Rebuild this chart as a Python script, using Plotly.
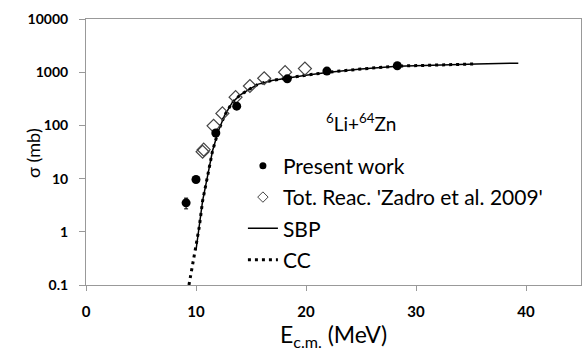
import plotly.graph_objects as go

# Present work (filled circles)
pw_x = [9.1, 10.0, 11.8, 13.7, 18.3, 21.9, 28.3]
pw_y = [3.5, 9.6, 72, 230, 750, 1050, 1320]
pw_err = [0.8, 0, 0, 0, 0, 0, 0]

# Tot. Reac. 'Zadro et al. 2009' (open diamonds)
zd_x = [10.6, 10.7, 11.6, 12.4, 13.6, 14.9, 16.2, 18.1, 19.9]
zd_y = [32, 35, 98, 168, 340, 550, 770, 1000, 1170]

# SBP curve
sbp_x = [10.0, 10.3, 10.6, 11.1, 11.5, 12.0, 12.6, 13.3, 14.0, 14.5, 15.6, 16.9, 18.3, 20.0, 21.9, 25.0, 28.3, 32.0, 35.5, 39.3]
sbp_y = [0.45, 1.25, 3.8, 12.5, 33, 75, 155, 270, 370, 430, 590, 700, 780, 880, 990, 1150, 1300, 1380, 1430, 1480]

# CC curve
cc_x = [9.36, 9.7, 10.0, 10.3, 10.6, 11.1, 11.5, 12.0, 12.6, 13.3, 14.0, 14.5, 15.6, 16.9, 18.3, 20.0, 21.9, 25.0, 28.3, 32.0, 35.5]
cc_y = [0.1, 0.27, 0.55, 1.25, 3.8, 12.5, 33, 75, 155, 270, 370, 430, 590, 700, 780, 880, 990, 1150, 1300, 1380, 1430]

y_ticks = [0.1, 1, 10, 100, 1000, 10000]
y_tick_text = ["0.1", "1", "10", "100", "1000", "10000"]
x_ticks = [0, 10, 20, 30, 40]

FONT = "Lato"

fig = go.Figure()
# data traces
fig.add_trace(go.Scatter(
    x=sbp_x, y=sbp_y, mode="lines", name="SBP",
    line=dict(color="black", width=1.5), legendrank=3, legendgroup="c"))
fig.add_trace(go.Scatter(
    x=cc_x, y=cc_y, mode="lines", name="CC",
    line=dict(color="black", width=3, dash="3px,4px"), legendrank=4, legendgroup="d"))
fig.add_trace(go.Scatter(
    x=zd_x, y=zd_y, mode="markers", name="Tot. Reac. 'Zadro et al. 2009'",
    marker=dict(symbol="diamond-open", size=10, color="#444", line=dict(width=1.2)),
    showlegend=False))
fig.add_trace(go.Scatter(
    x=pw_x, y=pw_y, mode="markers", name="Present work",
    marker=dict(symbol="circle", size=9, color="black"),
    error_y=dict(type="data", array=pw_err, color="black", thickness=1, width=2),
    showlegend=False))
# legend-only entries with smaller symbols
fig.add_trace(go.Scatter(
    x=[None], y=[None], mode="markers", name="Tot. Reac. 'Zadro et al. 2009'",
    marker=dict(symbol="diamond-open", size=8, color="#444", line=dict(width=1)),
    legendrank=2, legendgroup="b"))
fig.add_trace(go.Scatter(
    x=[None], y=[None], mode="markers", name="Present work",
    marker=dict(symbol="circle", size=7, color="black"),
    legendrank=1, legendgroup="a"))

fig.add_annotation(
    x=0.555, y=0.61, xref="paper", yref="paper",
    text="<sup>6</sup>Li+<sup>64</sup>Zn", showarrow=False,
    font=dict(family=FONT, size=19, color="black"))

fig.add_annotation(
    x=-0.132, y=0.495, xref="paper", yref="paper",
    text="σ (mb)", textangle=-90, showarrow=False,
    font=dict(family=FONT, size=18, color="black"))

fig.update_layout(
    width=582, height=354,
    margin=dict(l=86, r=1, t=19, b=69),
    paper_bgcolor="white", plot_bgcolor="white",
    font=dict(family=FONT, color="black"),
    showlegend=True,
    legend=dict(x=0.317, y=0.524, xanchor="left", yanchor="top",
                font=dict(family=FONT, size=21, color="black"),
                bgcolor="rgba(0,0,0,0)", tracegroupgap=1,
                itemwidth=30),
    xaxis=dict(range=[0, 45], tickvals=x_ticks, showgrid=False, zeroline=False,
               showline=True, linecolor="#999", linewidth=1, mirror=True,
               ticks="outside", ticklen=5, tickcolor="#999", ticklabelstandoff=8,
               tickfont=dict(family=FONT, size=15, color="black", weight="bold"),
               title=dict(text="E<sub>c.m.</sub> (MeV)", font=dict(family=FONT, size=23), standoff=0)),
    yaxis=dict(type="log", range=[-1, 4], tickvals=y_ticks, ticktext=y_tick_text,
               showgrid=False, zeroline=False,
               showline=True, linecolor="#999", linewidth=1, mirror=True,
               ticks="outside", ticklen=6, tickcolor="#999", ticklabelstandoff=8,
               tickfont=dict(family=FONT, size=14, color="black", weight="bold")),
)

fig.write_html("out.html")
